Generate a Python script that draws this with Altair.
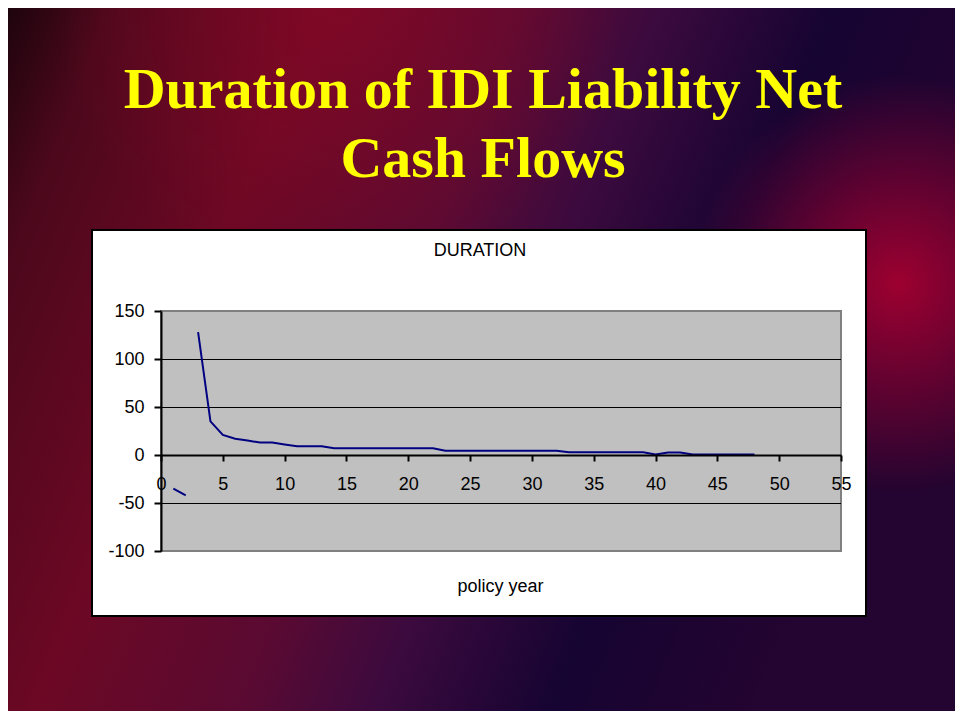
import altair as alt
import pandas as pd

# ---- data ----
years = list(range(1, 49))
duration = [-35, -42, 128, 35, 21, 17, 15, 13, 13, 11,
            9, 9, 9, 7, 7, 7, 7, 7, 7, 7,
            7, 7, 4.5, 4.5, 4.5, 4.5, 4.5, 4.5, 4.5, 4.5,
            4.5, 4.5, 2.8, 2.8, 2.8, 2.8, 2.8, 2.8, 2.8, 0.5,
            2.5, 2.5, 0.5, 0.5, 0.5, 0.5, 0.5, 0.5]
x_ticks = list(range(0, 56, 5))
y_ticks = [-100, -50, 0, 50, 100, 150]
gridlines = [100, 50, -50]

main_title = ["Duration of IDI Liability Net", "Cash Flows"]
chart_title = "DURATION"
x_title = "policy year"

# the series is interrupted between its negative start and the positive run
first_pos = next(i for i, v in enumerate(duration) if v > 0)
segment = [0 if i < first_pos else 1 for i in range(len(duration))]

df = pd.DataFrame({"year": years, "value": duration, "seg": segment})
grid_df = pd.DataFrame({"value": gridlines})
one = pd.DataFrame({"a": [0]})

W, H = 680, 240
PL, PT, PR, PB = 153, 303, 114, 160

xscale = alt.Scale(domain=[0, 55], nice=False, zero=False)
yscale = alt.Scale(domain=[-100, 150], nice=False, zero=False)

SANS = "Liberation Sans"
SERIF = "Liberation Serif"

bg_linear = {
    "gradient": "linear", "x1": 0, "y1": 0, "x2": 1, "y2": 0.3,
    "stops": [
        {"offset": 0.0, "color": "#1e040d"},
        {"offset": 0.1, "color": "#4c081c"},
        {"offset": 0.3, "color": "#6c0824"},
        {"offset": 0.5, "color": "#5a0a32"},
        {"offset": 0.63, "color": "#3c0a3e"},
        {"offset": 0.8, "color": "#160432"},
        {"offset": 1.0, "color": "#240430"},
    ],
}
bg_radial = {
    "gradient": "radial", "x1": 0.94, "y1": 0.42, "r1": 0,
    "x2": 0.94, "y2": 0.42, "r2": 0.22,
    "stops": [
        {"offset": 0.0, "color": "rgba(170,0,48,0.9)"},
        {"offset": 1.0, "color": "rgba(170,0,48,0)"},
    ],
}
bg_radial2 = {
    "gradient": "radial", "x1": 0.35, "y1": 0.12, "r1": 0,
    "x2": 0.35, "y2": 0.12, "r2": 0.3,
    "stops": [
        {"offset": 0.0, "color": "rgba(140,8,38,0.6)"},
        {"offset": 1.0, "color": "rgba(140,8,38,0)"},
    ],
}

full = dict(x=alt.value(-PL), x2=alt.value(W + PR), y=alt.value(-PT), y2=alt.value(H + PB))

bg = alt.Chart(one).mark_rect(color=bg_linear).encode(**full)
bg2 = alt.Chart(one).mark_rect(color=bg_radial).encode(**full)
bg3 = alt.Chart(one).mark_rect(color=bg_radial2).encode(**full)

box = alt.Chart(one).mark_rect(fill="white", stroke="black", strokeWidth=2).encode(
    x=alt.value(92 - 161), x2=alt.value(866 - 161),
    y=alt.value(230 - 311), y2=alt.value(616 - 311),
)

plot_bg = alt.Chart(one).mark_rect(fill="#c0c0c0", stroke="#808080", strokeWidth=2).encode(
    x=alt.value(0), x2=alt.value(W), y=alt.value(0), y2=alt.value(H)
)

x_axis = alt.Axis(
    values=x_ticks, orient="bottom", offset=-96, zindex=1,
    grid=False, domainColor="black", domainWidth=2,
    tickColor="black", tickWidth=2, tickSize=6,
    labelFont=SANS, labelFontSize=18, labelColor="black",
    labelPadding=14, labelFlush=False, labelOverlap=False,
    title=x_title, titleFont=SANS, titleFontSize=18,
    titleFontWeight="normal", titleColor="black",
    titleX=339, titleY=136, titleBaseline="alphabetic", titleAlign="center",
)
y_axis = alt.Axis(
    values=y_ticks, orient="left", zindex=1, grid=False,
    domainColor="black", domainWidth=2,
    tickColor="black", tickWidth=2, tickSize=7,
    labelFont=SANS, labelFontSize=18, labelColor="black",
    labelPadding=10, title=None,
    labelExpr="'' + datum.value",
)

grid = alt.Chart(grid_df).mark_rule(color="black", strokeWidth=1, yOffset=0.5).encode(
    y=alt.Y("value:Q", scale=yscale, axis=y_axis),
    x=alt.value(0), x2=alt.value(W),
)

line = alt.Chart(df).mark_line(color="#000080", strokeWidth=2).encode(
    x=alt.X("year:Q", scale=xscale, axis=x_axis),
    y=alt.Y("value:Q", scale=yscale, axis=y_axis),
    detail="seg:N",
)

t1 = alt.Chart(one).mark_text(
    text=main_title[0], font=SERIF, fontSize=58, fontWeight="bold",
    color="#ffff00", align="center", baseline="alphabetic",
).encode(x=alt.value(322), y=alt.value(108 - 311))
t2 = alt.Chart(one).mark_text(
    text=main_title[1], font=SERIF, fontSize=58, fontWeight="bold",
    color="#ffff00", align="center", baseline="alphabetic",
).encode(x=alt.value(322), y=alt.value(177 - 311))
t3 = alt.Chart(one).mark_text(
    text=chart_title, font=SANS, fontSize=18, color="black",
    align="center", baseline="alphabetic",
).encode(x=alt.value(480 - 161), y=alt.value(255.5 - 311))

chart = alt.layer(bg, bg2, bg3, box, plot_bg, grid, line, t1, t2, t3).properties(
    width=W, height=H,
    autosize=alt.AutoSizeParams(type="none"),
    padding={"left": PL, "top": PT, "right": PR, "bottom": PB},
    background="#240520",
).configure_view(stroke=None)

chart.save("out.html", embed_options={"renderer": "svg", "actions": False})
